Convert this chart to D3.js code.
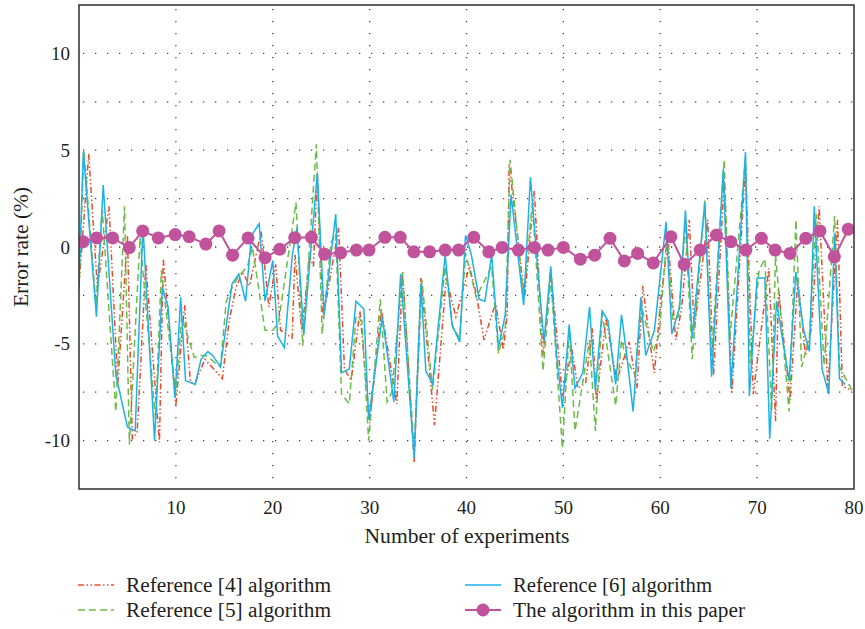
<!DOCTYPE html>
<html>
<head>
<meta charset="utf-8">
<script src="https://cdn.jsdelivr.net/npm/d3@7"></script>
<style>
  body { margin: 0; background: #fff; }
  text { font-family: "Liberation Serif", "DejaVu Serif", serif; fill: #231f20; }
</style>
</head>
<body>
<div id="chart"></div>
<script>
const width = 865, height = 629;

const ref4 = [[0,-2.0],[1.0,4.8],[1.9,-2.1],[3.1,2.1],[4.0,-7.1],[5.0,0.6],[5.5,-9.9],[6.0,-9.6],[6.9,-0.9],[8.3,-10.1],[8.7,-0.6],[10.0,-8.2],[10.9,-3.0],[11.5,-7.0],[12.0,-7.0],[13.0,-5.8],[14.8,-6.8],[15.5,-3.8],[16.2,-2.1],[16.9,-1.3],[17.6,-2.0],[18.8,0.8],[19.6,-3.1],[20.3,-0.9],[20.8,-4.3],[22.0,-4.7],[22.3,-0.4],[23.0,-4.4],[23.8,-0.5],[24.2,-1.0],[24.6,3.9],[25.2,-3.7],[26.8,1.0],[27.4,-6.3],[28.1,-6.9],[29.0,-3.3],[30.0,-9.1],[31.2,-3.2],[32.8,-8.1],[33.4,-1.3],[34.6,-11.1],[35.3,-1.6],[36.7,-9.2],[37.9,-1.6],[38.9,-3.6],[40.3,-1.0],[41.0,-2.4],[41.8,-4.8],[43.0,-2.9],[43.8,-5.3],[44.2,-3.5],[44.4,4.3],[46.0,-2.6],[47.0,2.9],[47.9,-5.6],[48.7,-1.2],[49.9,-7.7],[50.9,-5.3],[51.5,-7.3],[52.3,-7.0],[53.0,-4.2],[53.4,-8.0],[54.4,-3.7],[55.5,-6.9],[56.8,-4.9],[57.6,-7.3],[58.2,-2.0],[58.9,-4.8],[59.4,-6.5],[60.0,-3.0],[60.8,0.4],[61.6,-4.8],[62.2,-3.2],[63.0,1.4],[63.5,-4.3],[64.9,1.4],[65.5,-6.6],[66.6,3.4],[67.4,-7.5],[68.8,4.2],[69.6,-7.6],[71.2,-1.1],[71.9,-9.0],[72.2,-2.2],[73.4,-7.9],[74.2,-1.7],[75.0,-5.6],[75.6,-4.2],[76.4,2.1],[77.3,-7.4],[78.3,1.4],[78.8,-7.2],[79.8,-7.4]];
const ref5 = [[0,-2.2],[0.5,5.0],[1.75,-3.0],[2.4,1.9],[3.8,-8.5],[4.7,2.1],[5.2,-10.2],[6.3,0.5],[7.9,-8.9],[8.5,-1.2],[10.0,-7.6],[10.6,-3.6],[11.9,-5.7],[12.6,-5.6],[13.1,-5.6],[14.6,-6.2],[15.2,-2.8],[15.8,-2.1],[16.5,-1.5],[17.4,-1.0],[17.9,0.0],[19.2,-4.3],[20.0,-4.3],[20.6,-3.9],[22.4,2.3],[23.1,-5.1],[24.5,5.3],[25.1,-4.5],[26.0,0.2],[26.5,0.7],[27.1,-7.6],[27.9,-8.1],[28.6,-3.6],[29.2,-3.8],[29.9,-10.0],[31.1,-2.7],[31.8,-8.0],[32.3,-7.5],[33.4,-1.3],[34.6,-10.6],[35.4,-1.7],[36.5,-7.4],[37.8,-1.0],[38.6,-4.2],[39.3,-4.7],[39.9,-0.3],[41.0,-2.6],[42.6,-1.0],[43.3,-5.5],[44.0,-4.2],[44.5,4.5],[45.9,-2.6],[46.8,2.3],[47.9,-6.4],[48.7,-1.6],[49.9,-10.4],[50.6,-4.3],[51.2,-9.5],[52.0,-7.0],[52.7,-4.8],[53.3,-9.5],[54.0,-3.4],[55.4,-8.2],[56.0,-4.8],[56.5,-5.8],[57.4,-6.6],[58.0,-3.0],[58.8,-4.5],[59.3,-5.4],[59.9,-4.5],[60.7,0.7],[61.3,-3.8],[61.9,-3.6],[62.6,1.2],[63.3,-5.8],[64.6,2.4],[65.3,-5.7],[66.6,4.5],[67.2,-4.7],[68.8,4.6],[69.3,-6.0],[70.2,-1.2],[70.8,-0.6],[71.5,-8.5],[71.9,-0.4],[73.3,-8.5],[74.0,1.4],[74.6,-6.2],[75.4,-4.6],[76.1,1.7],[76.9,-6.1],[78.0,1.6],[78.5,-6.2],[79.8,-7.4]];
const ref6 = [[0,-1.7],[0.45,4.9],[1.8,-3.6],[2.5,3.2],[3.8,-6.6],[5.0,-9.3],[5.8,-9.5],[6.6,1.1],[7.8,-10.0],[8.6,-2.1],[9.2,-3.1],[9.9,-7.8],[10.5,-2.6],[11.0,-6.9],[12.0,-7.1],[12.6,-5.8],[13.3,-5.4],[13.8,-5.6],[14.6,-6.2],[15.8,-1.9],[16.5,-1.4],[17.2,-2.8],[17.8,0.6],[18.6,1.2],[19.2,-2.8],[20.0,-0.7],[20.5,-4.6],[21.2,-5.2],[22.0,-0.5],[22.5,1.0],[23.2,-4.5],[24.6,3.8],[25.3,-3.5],[26.5,1.7],[27.1,-6.5],[27.9,-6.3],[28.6,-2.8],[29.4,-3.2],[29.9,-8.9],[31.3,-3.6],[32.5,-8.0],[33.2,-1.4],[34.6,-10.9],[35.3,-1.9],[35.8,-6.4],[36.5,-7.1],[37.8,-0.4],[38.5,-4.0],[39.3,-4.9],[39.9,0.6],[40.5,-0.4],[41.3,-2.7],[41.9,-2.8],[42.6,-0.4],[43.3,-5.2],[44.0,-3.5],[44.6,2.7],[45.9,-3.0],[46.6,3.6],[47.3,-0.8],[48.0,-4.9],[48.7,-1.0],[49.3,-5.6],[49.9,-8.3],[50.6,-4.0],[51.2,-7.3],[52.0,-6.5],[52.7,-3.1],[53.3,-7.4],[54.0,-3.3],[54.6,-3.8],[55.4,-7.1],[56.0,-3.5],[56.5,-5.4],[57.2,-8.5],[58.0,-2.6],[58.5,-5.6],[59.4,-4.3],[60.6,1.3],[61.2,-4.5],[62.0,-3.1],[62.6,1.9],[63.3,-4.7],[64.6,2.3],[65.3,-6.7],[66.5,4.0],[67.3,-7.3],[68.8,4.9],[69.2,-7.7],[70.0,-1.6],[70.8,-1.6],[71.3,-9.9],[72.0,-2.8],[73.3,-6.9],[74.0,-1.3],[74.8,-4.3],[75.4,-5.4],[75.9,2.1],[76.7,-6.3],[77.4,-7.6],[78.0,0.7],[78.5,-6.8],[79.1,-7.1]];

const oursX = [0.44,1.82,3.47,5.19,6.57,8.18,9.93,11.37,13.09,14.46,15.85,17.45,19.21,20.72,22.27,23.99,25.36,27.01,28.63,29.93,31.58,33.16,34.57,36.19,37.8,39.18,40.75,42.3,43.68,45.36,47.01,48.42,50.0,51.75,53.23,54.81,56.29,57.66,59.28,61.1,62.47,64.12,65.8,67.29,68.84,70.44,71.86,73.4,75.02,76.49,77.97,79.41];
const oursY = [0.27,0.47,0.47,-0.03,0.83,0.47,0.64,0.53,0.15,0.83,-0.42,0.47,-0.55,-0.12,0.48,0.5,-0.37,-0.3,-0.16,-0.16,0.5,0.5,-0.25,-0.25,-0.16,-0.16,0.5,-0.25,-0.02,-0.16,-0.02,-0.16,-0.02,-0.63,-0.42,0.45,-0.72,-0.33,-0.82,0.53,-0.9,-0.16,0.62,0.27,-0.16,0.45,-0.16,-0.33,0.45,0.83,-0.51,0.92];

const xTicks = [10, 20, 30, 40, 50, 60, 70, 80];
const yTicks = [-10, -5, 0, 5, 10];
const yGrid = [-10, -7.5, -5, -2.5, 0, 2.5, 5, 7.5, 10];

const pLeft = 79, pRight = 854, pTop = 5, pBottom = 489;

let svg = d3.select("#chart").append("svg")
    .attr("width", width)
    .attr("height", height);

let x = d3.scaleLinear().domain([0, 80]).range([pLeft, pRight]);
let y = d3.scaleLinear().domain([-12.5, 12.5]).range([pBottom, pTop]);

svg.append("defs").append("clipPath").attr("id", "plot")
    .append("rect").attr("x", pLeft).attr("y", pTop)
    .attr("width", pRight - pLeft).attr("height", pBottom - pTop);

// dotted grid
svg.append("g").selectAll("line")
    .data(yGrid)
    .enter().append("line")
    .attr("x1", pLeft + 4).attr("x2", pRight)
    .attr("y1", d => y(d)).attr("y2", d => y(d))
    .attr("stroke", "#444").attr("stroke-width", 1.3)
    .attr("stroke-dasharray", "1.3,10.7");

svg.append("g").selectAll("line")
    .data(xTicks.slice(0, -1))
    .enter().append("line")
    .attr("x1", d => x(d)).attr("x2", d => x(d))
    .attr("y1", pTop + 4).attr("y2", pBottom)
    .attr("stroke", "#444").attr("stroke-width", 1.3)
    .attr("stroke-dasharray", "1.3,10.7");

let lineGen = d3.line().x(d => x(d[0])).y(d => y(d[1]));
let plot = svg.append("g").attr("clip-path", "url(#plot)");

let series = [
    { data: ref4, color: "#ea4a2c", dash: "6,2.5,1.5,2.5,1.5,2.5" },
    { data: ref5, color: "#6cbb47", dash: "7,4" },
    { data: ref6, color: "#1cb2e8", dash: null }
];

series.forEach(s => {
    plot.append("path")
        .attr("d", lineGen(s.data))
        .attr("fill", "none")
        .attr("stroke", s.color)
        .attr("stroke-width", 1.5)
        .attr("stroke-dasharray", s.dash);
});

let ours = oursX.map((d, i) => [d, oursY[i]]);
plot.append("path")
    .attr("d", lineGen(ours))
    .attr("fill", "none")
    .attr("stroke", "#c1529c")
    .attr("stroke-width", 2);
plot.append("g").selectAll("circle")
    .data(ours)
    .enter().append("circle")
    .attr("cx", d => x(d[0])).attr("cy", d => y(d[1]))
    .attr("r", 6.5)
    .attr("fill", "#c1529c");

// frame
svg.append("rect")
    .attr("x", pLeft).attr("y", pTop)
    .attr("width", pRight - pLeft).attr("height", pBottom - pTop)
    .attr("fill", "none").attr("stroke", "#3a3a3a").attr("stroke-width", 1.6);

// tick labels
svg.append("g").selectAll("text")
    .data(yTicks)
    .enter().append("text")
    .attr("x", 70).attr("y", d => y(d) + 6.5)
    .attr("text-anchor", "end")
    .attr("font-size", 19)
    .text(d => d);

svg.append("g").selectAll("text")
    .data(xTicks)
    .enter().append("text")
    .attr("x", d => x(d)).attr("y", 514)
    .attr("text-anchor", "middle")
    .attr("font-size", 19)
    .text(d => d);

// axis titles
svg.append("text")
    .attr("x", 467).attr("y", 543)
    .attr("text-anchor", "middle")
    .attr("font-size", 20)
    .attr("textLength", 205).attr("lengthAdjust", "spacingAndGlyphs")
    .text("Number of experiments");

svg.append("text")
    .attr("transform", "translate(28,247) rotate(-90)")
    .attr("text-anchor", "middle")
    .attr("font-size", 20)
    .attr("textLength", 120).attr("lengthAdjust", "spacingAndGlyphs")
    .text("Error rate (%)");

// legend
let legend = [
    { name: "Reference [4] algorithm", color: "#ea4a2c", dash: "6,2.5,1.5,2.5,1.5,2.5", lx: 78, ly: 585, w: 205 },
    { name: "Reference [5] algorithm", color: "#6cbb47", dash: "7,4", lx: 78, ly: 610, w: 205 },
    { name: "Reference [6] algorithm", color: "#1cb2e8", dash: null, lx: 465, ly: 585, w: 199 },
    { name: "The algorithm in this paper", color: "#c1529c", dash: null, lx: 465, ly: 610, w: 232, dot: true }
];

let items = svg.append("g").selectAll("g")
    .data(legend)
    .enter().append("g");

items.append("line")
    .attr("x1", d => d.lx).attr("x2", d => d.lx + 36)
    .attr("y1", d => d.ly).attr("y2", d => d.ly)
    .attr("stroke", d => d.color)
    .attr("stroke-width", d => d.dot ? 2 : 1.5)
    .attr("stroke-dasharray", d => d.dash);

items.filter(d => d.dot).append("circle")
    .attr("cx", d => d.lx + 18).attr("cy", d => d.ly)
    .attr("r", 6.5).attr("fill", d => d.color);

items.append("text")
    .attr("x", d => d.lx + 48).attr("y", d => d.ly + 6.5)
    .attr("font-size", 20)
    .attr("textLength", d => d.w).attr("lengthAdjust", "spacingAndGlyphs")
    .text(d => d.name);
</script>
</body>
</html>
